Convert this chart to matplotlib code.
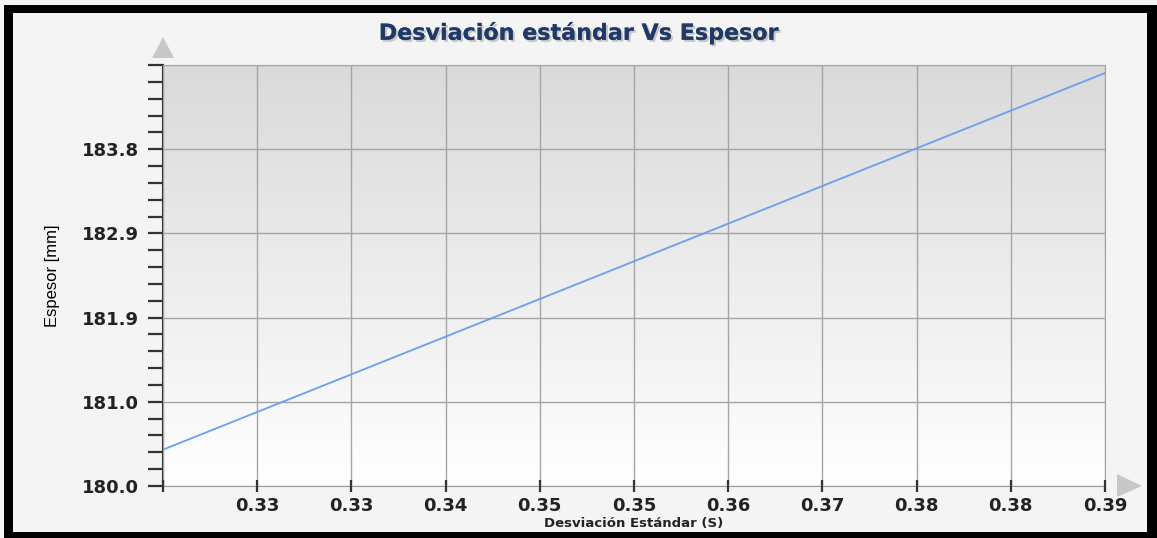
import numpy as np
import matplotlib
matplotlib.use('Agg')
from matplotlib import pyplot as plt
from matplotlib.ticker import FixedLocator
from matplotlib.patches import Rectangle, Polygon
import matplotlib.patheffects as pe

# Datos
desviacion = [0.3195, 0.3895]
espesor = [180.41, 184.66]
x_min, x_paso = 0.3195, 0.007
y_min, y_paso = 180.0, 0.95
titulo = 'Desviación estándar Vs Espesor'
etiqueta_x = 'Desviación Estándar (S)'
etiqueta_y = 'Espesor [mm]'

W, H = 1157, 538
fig = plt.figure(figsize=(W / 100, H / 100), dpi=100)
fig.patch.set_facecolor('#f4f4f4')

# Área de la gráfica (px)
L, R, T, B = 163, 1105, 65, 486
ax = fig.add_axes([L / W, 1 - B / H, (R - L) / W, (B - T) / H])

x_max = x_min + 10 * x_paso
y_max = y_min + 5 * y_paso

# Fondo degradado
grad = np.linspace(0, 1, 256).reshape(-1, 1)
ax.imshow(grad, extent=[x_min, x_max, y_min, y_max], aspect='auto',
          cmap=matplotlib.colors.LinearSegmentedColormap.from_list(
              'g', ['#ffffff', '#dadada']),
          origin='lower', zorder=0)

ax.plot(desviacion, espesor, color='#6d9eeb', linewidth=1.3, zorder=3)

ax.set_xlim(x_min, x_max)
ax.set_ylim(y_min, y_max)

xt = [x_min + i * x_paso for i in range(11)]
yt = [y_min + i * y_paso for i in range(6)]
ax.xaxis.set_major_locator(FixedLocator(xt))
ax.yaxis.set_major_locator(FixedLocator(yt))
ax.yaxis.set_minor_locator(FixedLocator([y_min + i * y_paso / 5 for i in range(26)]))
ax.set_xticklabels(['' if i == 0 else '%.2f' % (v + 1e-6) for i, v in enumerate(xt)],
                   fontweight='bold', color='#222222')
ax.set_yticklabels(['' if i == 5 else '%.1f' % (v + 1e-6) for i, v in enumerate(yt)],
                   fontweight='bold', color='#222222')

ax.grid(True, which='major', color='#a5a5a5', linewidth=1.0, zorder=1)
ax.set_axisbelow(False)

for s in ['top', 'right']:
    ax.spines[s].set_color('#a5a5a5')
ax.spines['left'].set_color('#333333')
ax.spines['left'].set_linewidth(1.5)
ax.spines['bottom'].set_color('#9a9a9a')
ax.spines['bottom'].set_linestyle((0, (2, 1)))

ax.tick_params(axis='y', which='both', direction='out', length=11, width=1.6,
               color='#333333', labelsize=13, pad=6)
ax.tick_params(axis='x', which='major', direction='inout', length=8, width=1.6,
               color='#333333', labelsize=13, pad=4)

ax.set_ylabel(etiqueta_y, fontsize=12, family='Liberation Sans', labelpad=16)
fig.text((L + R) / 2 / W, 1 - 524 / H, etiqueta_x,
         ha='center', va='center', fontsize=9.5, fontweight='bold', color='#222222')

fig.text(579 / W, 1 - 33 / H, titulo, ha='center', va='center', fontsize=16,
         fontweight='bold', color='#1f3a68',
         path_effects=[pe.withSimplePatchShadow(offset=(1.5, -1.5), shadow_rgbFace='#999999', alpha=0.5), pe.Normal()])

# Flechas de los ejes
def fig_xy(px, py):
    return (px / W, 1 - py / H)

fig.patches.append(Polygon([fig_xy(152, 58), fig_xy(174, 58), fig_xy(163, 37)],
                           closed=True, transform=fig.transFigure,
                           facecolor='#c8c8c8', edgecolor='none'))
fig.patches.append(Polygon([fig_xy(1117, 474), fig_xy(1117, 497), fig_xy(1142, 486)],
                           closed=True, transform=fig.transFigure,
                           facecolor='#c8c8c8', edgecolor='none'))

# Marco negro
for (x0, y0, w, h) in [(4, 5, 9, 533), (4, 5, 1153, 8), (1147, 5, 10, 533), (4, 532, 1153, 6)]:
    fig.patches.append(Rectangle(fig_xy(x0, y0 + h), w / W, h / H,
                                 transform=fig.transFigure, facecolor='black',
                                 edgecolor='none', zorder=10))

plt.savefig('out.png', dpi=100)
